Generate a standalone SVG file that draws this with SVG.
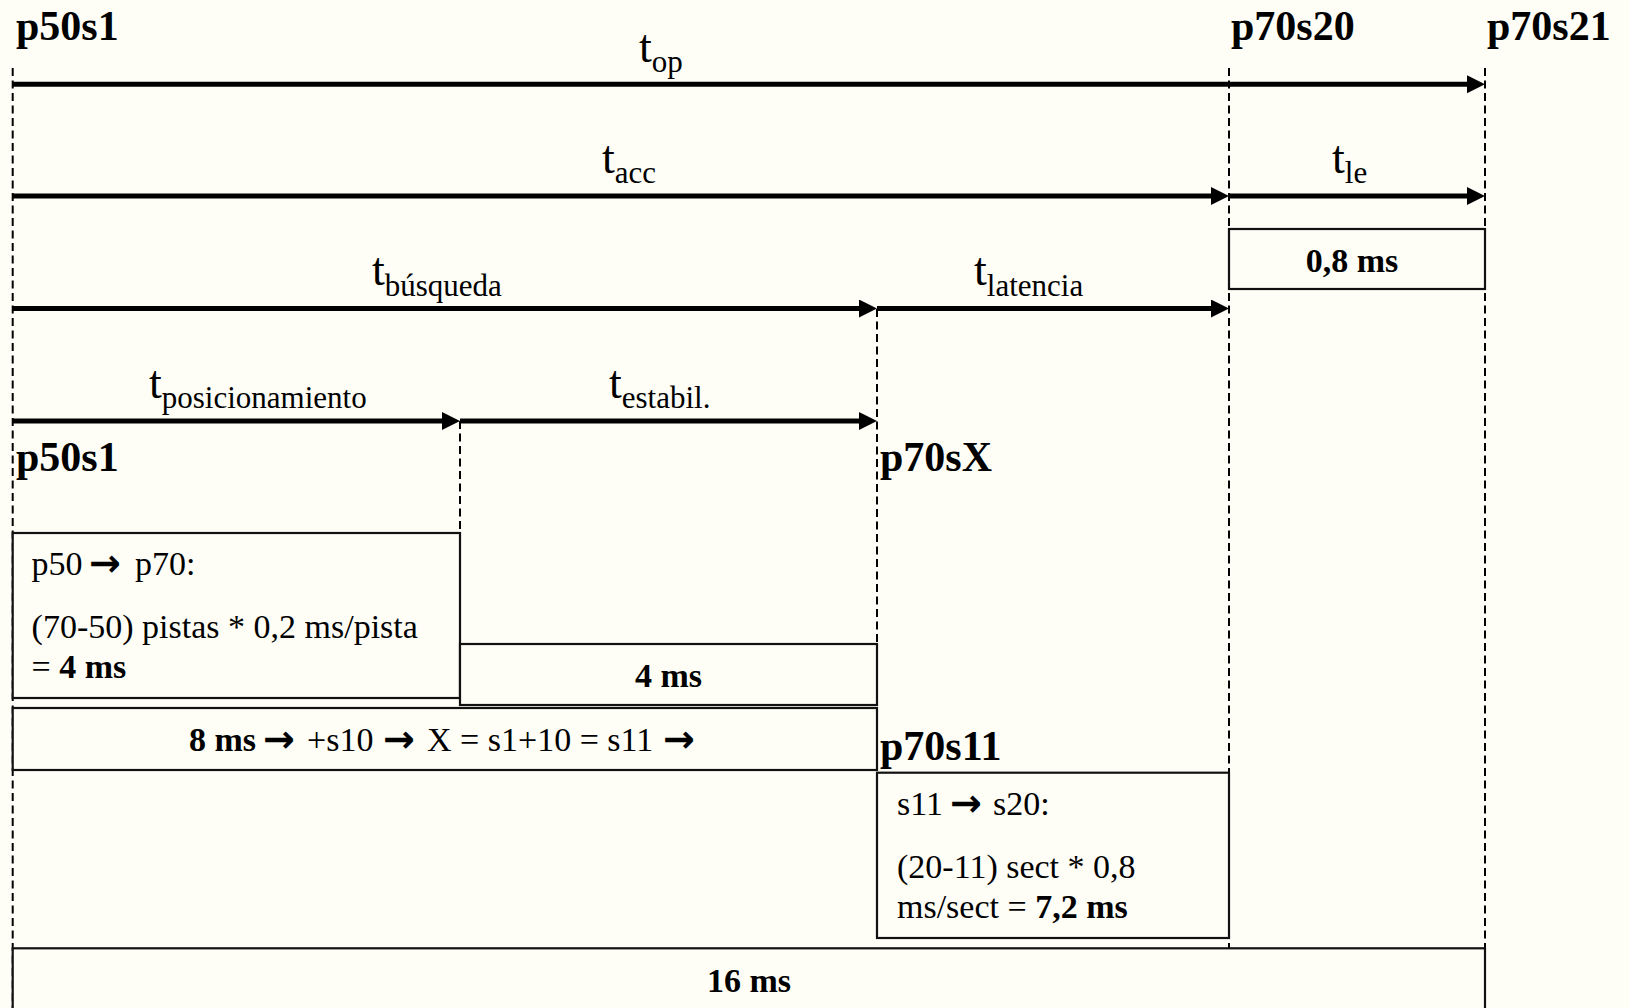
<svg xmlns="http://www.w3.org/2000/svg" width="1629" height="1008" viewBox="0 0 1629 1008">
<style>
text{font-family:"Liberation Serif","Times New Roman",serif;fill:#000}
.bl{font-weight:bold;font-size:42px}
.tx{font-size:34px}
.b{font-weight:bold}
.t{font-size:46px}
.sub{font-size:31px}
.ar{font-family:"DejaVu Sans",sans-serif;font-weight:bold;font-size:38px}
.dash{stroke:#000;stroke-width:2;stroke-dasharray:8 4.5;fill:none}
.box{fill:#fefef7;stroke:#111;stroke-width:2.2}
.arrow{stroke:#000;stroke-width:5;fill:none;marker-end:url(#ah)}
</style>
<defs>
<marker id="ah" markerUnits="userSpaceOnUse" markerWidth="19" markerHeight="19" refX="0" refY="9" orient="auto">
<path d="M0,0 L18,9 L0,18 z" fill="#000"/>
</marker>
</defs>
<rect x="0" y="0" width="1629" height="1008" fill="#fefef7"/>

<g id="guides">
<line class="dash" x1="12.7" y1="68" x2="12.7" y2="1008"/>
<line class="dash" x1="460" y1="421" x2="460" y2="533"/>
<line class="dash" x1="877" y1="309" x2="877" y2="708"/>
<line class="dash" x1="1229" y1="68" x2="1229" y2="948"/>
<line class="dash" x1="1485" y1="68" x2="1485" y2="1008"/>
</g>

<g id="connectors">
<line class="arrow" x1="12.7" y1="84.3" x2="1467" y2="84.3"/>
<line class="arrow" x1="12.7" y1="196" x2="1211" y2="196"/>
<line class="arrow" x1="1229" y1="196" x2="1467" y2="196"/>
<line class="arrow" x1="12.7" y1="308.5" x2="859" y2="308.5"/>
<line class="arrow" x1="877" y1="308.5" x2="1211" y2="308.5"/>
<line class="arrow" x1="12.7" y1="421" x2="442" y2="421"/>
<line class="arrow" x1="460" y1="421" x2="859" y2="421"/>
</g>

<g id="label-top-p50s1"><text class="bl" x="16" y="40">p50s1</text></g>
<g id="label-p70s20"><text class="bl" x="1231" y="40">p70s20</text></g>
<g id="label-p70s21"><text class="bl" x="1487" y="40">p70s21</text></g>

<g id="t-op"><text class="t" x="639" y="62">t<tspan class="sub" dy="10">op</tspan></text></g>
<g id="t-acc"><text class="t" x="602" y="173">t<tspan class="sub" dy="10">acc</tspan></text></g>
<g id="t-le"><text class="t" x="1332" y="173">t<tspan class="sub" dy="10">le</tspan></text></g>
<g id="t-busqueda"><text class="t" x="372" y="285">t<tspan class="sub" dy="11">búsqueda</tspan></text></g>
<g id="t-latencia"><text class="t" x="974" y="285">t<tspan class="sub" dy="11">latencia</tspan></text></g>
<g id="t-posicionamiento"><text class="t" x="149" y="398">t<tspan class="sub" dy="10">posicionamiento</tspan></text></g>
<g id="t-estabil"><text class="t" x="609" y="398">t<tspan class="sub" dy="10">estabil.</tspan></text></g>

<g id="box-0-8ms">
<rect class="box" x="1229" y="229" width="256" height="60"/>
<text class="tx b" x="1352" y="272" text-anchor="middle">0,8 ms</text>
</g>

<g id="label-mid-p50s1"><text class="bl" x="16" y="471">p50s1</text></g>
<g id="label-p70sX"><text class="bl" x="880" y="471">p70sX</text></g>

<g id="box-p50-p70">
<rect class="box" x="12.7" y="533" width="447.3" height="165"/>
<text class="tx" x="31.6" y="575">p50</text>
<text class="ar" x="89" y="576">→</text>
<text class="tx" x="135" y="575">p70:</text>
<text class="tx" x="31.6" y="638">(70-50) pistas * 0,2 ms/pista</text>
<text class="tx" x="31.6" y="678">= <tspan class="b">4 ms</tspan></text>
</g>

<g id="box-4ms">
<rect class="box" x="460" y="644" width="417" height="61"/>
<text class="tx b" x="668.5" y="687" text-anchor="middle">4 ms</text>
</g>

<g id="box-8ms">
<rect class="box" x="12.7" y="708" width="864.3" height="62"/>
<text class="tx b" x="189" y="751">8 ms</text>
<text class="ar" x="263" y="752">→</text>
<text class="tx" x="307" y="751">+s10</text>
<text class="ar" x="383" y="752">→</text>
<text class="tx" x="427" y="751">X = s1+10 = s11</text>
<text class="ar" x="663" y="752">→</text>
</g>

<g id="label-p70s11"><text class="bl" x="880" y="760">p70s11</text></g>

<g id="box-s11-s20">
<rect class="box" x="877" y="772.7" width="352" height="165.3"/>
<text class="tx" x="897" y="815">s11</text>
<text class="ar" x="950" y="816">→</text>
<text class="tx" x="993" y="815">s20:</text>
<text class="tx" x="897" y="878">(20-11) sect * 0,8</text>
<text class="tx" x="897" y="918">ms/sect = <tspan class="b">7,2 ms</tspan></text>
</g>

<g id="box-16ms">
<rect class="box" x="12.7" y="948.3" width="1472.3" height="80"/>
<text class="tx b" x="749" y="992" text-anchor="middle">16 ms</text>
</g>
</svg>
